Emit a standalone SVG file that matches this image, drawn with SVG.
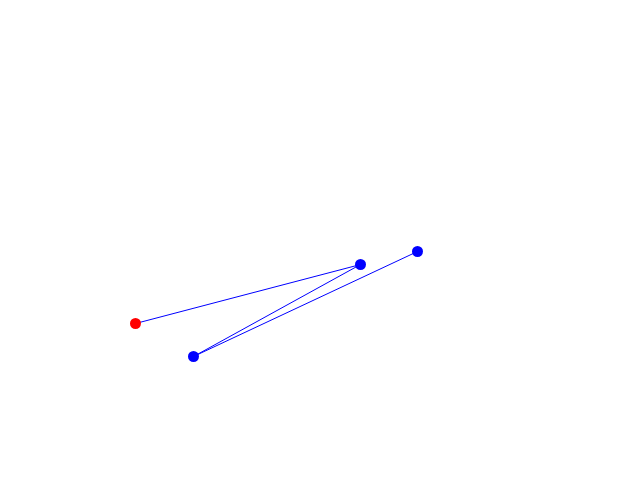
<svg xmlns="http://www.w3.org/2000/svg" width="640" height="480" viewBox="0 0 640 480">
<style>
.e{stroke:#0000ff;stroke-width:1;fill:none}
.b{fill:#0000ff}
.r{fill:#ff0000}
</style>
<rect width="640" height="480" fill="#fff"/>
<g id="connectors">
<line class="e" x1="135.5" y1="323.5" x2="360.5" y2="264.5"/>
<line class="e" x1="193.5" y1="356.5" x2="360.5" y2="264.5"/>
<line class="e" x1="193.5" y1="356.5" x2="417.5" y2="251.5"/>
</g>
<g id="n0"><circle class="r" cx="135.5" cy="323.5" r="5.5"/></g>
<g id="n1"><circle class="b" cx="360.5" cy="264.5" r="5.5"/></g>
<g id="n2"><circle class="b" cx="417.5" cy="251.5" r="5.5"/></g>
<g id="n3"><circle class="b" cx="193.5" cy="356.5" r="5.5"/></g>
</svg>
